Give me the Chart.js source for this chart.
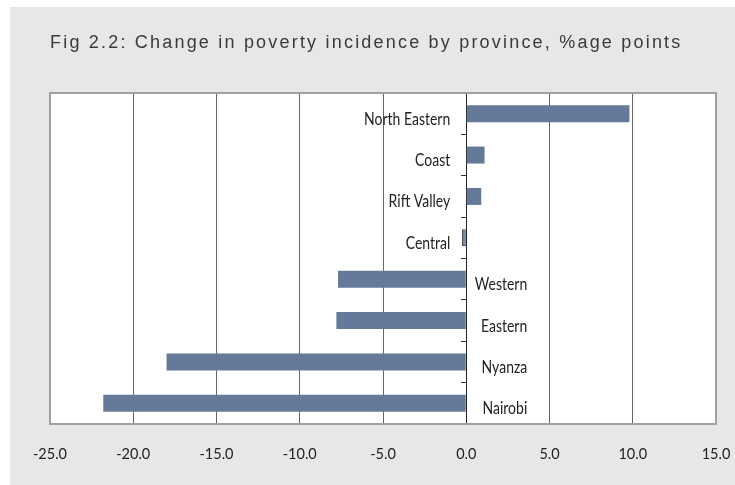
<!DOCTYPE html>
<html>
<head>
<meta charset="utf-8">
<script src="https://cdn.jsdelivr.net/npm/chart.js@4"></script>
<style>
  html, body { margin: 0; padding: 0; background: #fff; }
  #wrap { width: 735px; height: 485px; }
</style>
</head>
<body>
<div id="wrap"><canvas id="chart"></canvas></div>
<script>
const TITLE = "Fig 2.2: Change in poverty incidence by province, %age points";
const provinces = ["North Eastern", "Coast", "Rift Valley", "Central", "Western", "Eastern", "Nyanza", "Nairobi"];
const change = [9.8, 1.1, 0.9, -0.25, -7.7, -7.8, -18.0, -21.8];
const xMin = -25;
const xMax = 15;
const xStep = 5;

const LABEL_FONT = "Lato, 'DejaVu Sans Condensed', sans-serif";

// panel background, white plot area and grey frame
const backdrop = {
    id: "backdrop",
    beforeDraw(chart) {
        const ctx = chart.ctx;
        const a = chart.chartArea;
        ctx.save();
        ctx.fillStyle = "#ffffff";
        ctx.fillRect(0, 0, chart.width, chart.height);
        ctx.fillStyle = "#e6e7e9";
        ctx.fillRect(10, 7, chart.width - 10, chart.height - 7);
        ctx.fillStyle = "#ffffff";
        ctx.fillRect(a.left, a.top, a.right - a.left, a.bottom - a.top);
        ctx.restore();
    },
    beforeDatasetsDraw(chart) {
        const ctx = chart.ctx;
        const a = chart.chartArea;
        ctx.save();
        ctx.strokeStyle = "#a0a0a0";
        ctx.lineWidth = 2;
        ctx.strokeRect(a.left, a.top, a.right - a.left, a.bottom - a.top);
        ctx.restore();
    },
    afterDraw(chart) {
        const ctx = chart.ctx;
        ctx.save();
        ctx.font = "18px 'Liberation Sans'";
        ctx.letterSpacing = "2.2px";
        ctx.fillStyle = "#3a3a3a";
        ctx.textBaseline = "alphabetic";
        ctx.fillText(TITLE, 50, 48);
        ctx.restore();
    }
};

// province names sit beside the zero line, opposite the long negative bars
const provinceLabels = {
    id: "provinceLabels",
    afterDatasetsDraw(chart) {
        const ctx = chart.ctx;
        const x0 = chart.scales.x.getPixelForValue(0);
        ctx.save();
        ctx.font = "14px " + LABEL_FONT;
        ctx.fillStyle = "#222";
        ctx.textAlign = "right";
        ctx.textBaseline = "alphabetic";
        provinces.forEach(function(name, i) {
            const y = chart.scales.y.getPixelForValue(i) + 11;
            const x = change[i] < -1 ? x0 + 61 : x0 - 16;
            ctx.save();
            ctx.translate(x, y);
            ctx.scale(1, 1.2);
            ctx.fillText(name, 0, 0);
            ctx.restore();
        });
        ctx.restore();
    }
};

new Chart(document.getElementById("chart"), {
    type: "bar",
    data: {
        labels: provinces,
        datasets: [{
            data: change,
            backgroundColor: "#647a98",
            borderColor: "#2b3142",
            borderWidth: function(c) { return Math.abs(c.raw) < 0.5 ? 1 : 0; },
            borderSkipped: false,
            barPercentage: 0.41,
            categoryPercentage: 1.0
        }]
    },
    options: {
        indexAxis: "y",
        responsive: true,
        maintainAspectRatio: false,
        animation: false,
        layout: {
            padding: {top: 93, left: 50, right: 19, bottom: 20}
        },
        plugins: {
            legend: {display: false},
            title: {display: false},
            tooltip: {enabled: false}
        },
        scales: {
            x: {
                type: "linear",
                min: xMin,
                max: xMax,
                afterFit: function(scale) {
                    scale.height = 41;
                    scale.paddingLeft = 0;
                    scale.paddingRight = 0;
                },
                ticks: {
                    stepSize: xStep,
                    padding: 22,
                    color: "#222",
                    font: {family: LABEL_FONT, size: 14.5},
                    callback: function(v) { return Number(v).toFixed(1); }
                },
                grid: {color: "#666", lineWidth: 1, drawTicks: false},
                border: {display: false}
            },
            y: {
                position: {x: 0},
                offset: true,
                afterFit: function(scale) {
                    scale.width = 0;
                    scale.paddingTop = 0;
                    scale.paddingBottom = 0;
                    scale.paddingLeft = 0;
                    scale.paddingRight = 0;
                },
                ticks: {display: false},
                grid: {
                    offset: true,
                    drawOnChartArea: false,
                    drawTicks: true,
                    tickLength: 5,
                    tickColor: "#333"
                },
                border: {display: true, color: "#222", width: 1}
            }
        }
    },
    plugins: [backdrop, provinceLabels]
});
</script>
</body>
</html>
